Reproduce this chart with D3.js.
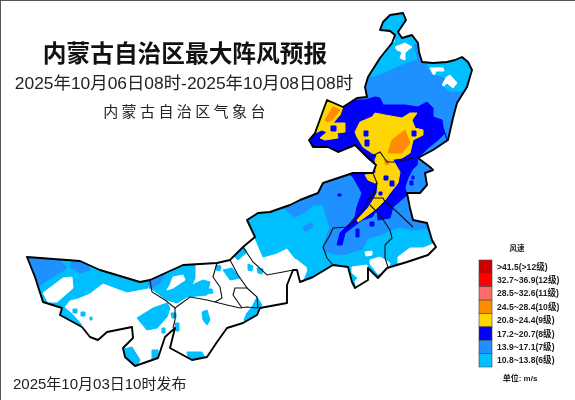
<!DOCTYPE html>
<html>
<head>
<meta charset="utf-8">
<script src="https://d3js.org/d3.v7.min.js"></script>
<style>
  html, body { margin: 0; padding: 0; background: #fff; }
  svg { display: block; filter: blur(0.35px); }
</style>
</head>
<body>
<div id="chart"></div>
<script>
  // title texts
  const titleText = "内蒙古自治区最大阵风预报";
  const periodText = "2025年10月06日08时-2025年10月08日08时";
  const agencyText = "内蒙古自治区气象台";
  const issueText = "2025年10月03日10时发布";
  const legendTitle = "风速";
  const unitText = "单位: m/s";

  // legend classes, top to bottom
  const levelLabels = [">41.5(>12级)", "32.7~36.9(12级)", "28.5~32.6(11级)", "24.5~28.4(10级)",
    "20.8~24.4(9级)", "17.2~20.7(8级)", "13.9~17.1(7级)", "10.8~13.8(6级)"];
  const levelColors = ["#cd0000", "#ff0000", "#ff6a6a", "#ff8c00", "#ffd700", "#0000ff", "#1e90ff", "#00bfff"];

  // map geometry, in map grid units
  const regionOutline = [[403,13],[406,20],[398,32],[402,38],[412,35],[418,43],[419,52],[422,62],[433,63],[447,62],[455,60],[462,57],[468,62],[472,70],[467,87],[457,103],[453,118],[448,140],[433,150],[418,158],[430,167],[433,170],[425,173],[427,185],[420,193],[407,193],[410,208],[413,220],[427,223],[432,240],[436,247],[428,255],[407,262],[387,268],[378,278],[368,268],[368,280],[355,288],[352,282],[348,267],[333,265],[313,277],[300,282],[297,270],[293,270],[287,285],[287,303],[260,308],[257,315],[243,323],[227,328],[217,342],[207,357],[192,360],[170,348],[175,328],[165,337],[158,358],[135,366],[125,357],[123,348],[133,338],[132,327],[107,332],[98,340],[90,337],[82,327],[60,315],[62,308],[43,302],[35,277],[27,257],[80,261],[100,270],[140,282],[150,280],[183,265],[217,263],[230,260],[243,247],[255,237],[247,220],[258,213],[270,212],[290,205],[300,200],[318,193],[323,183],[353,173],[373,173],[376,165],[368,158],[355,145],[338,152],[328,147],[313,147],[309,140],[315,133],[327,100],[343,107],[357,98],[367,97],[365,87],[368,77],[380,58],[392,43],[395,35],[390,31],[380,30],[383,22],[390,15]];

  const leagueLines = [
    [[368,158],[380,152],[387,162],[397,162],[413,158]],
    [[373,173],[377,183],[375,192],[368,200],[367,205],[355,220],[347,227],[333,228],[330,235],[323,247],[327,258],[333,265]],
    [[368,198],[383,198],[385,202],[395,210],[413,227]],
    [[370,205],[380,215],[390,230],[392,238],[385,245],[385,258],[388,267]],
    [[150,280],[152,292],[165,300],[175,308],[190,297],[207,300],[227,305],[240,308],[247,307],[258,308]],
    [[175,308],[175,320],[173,328]],
    [[217,263],[213,277],[220,287],[222,298],[215,302]],
    [[230,260],[238,275],[247,288],[235,288],[233,295],[242,308]],
    [[247,288],[257,297],[258,308]],
    [[243,247],[253,262],[267,275],[283,272],[293,270]]
  ];

  // wind areas by class (clipped to the region outline)
  const cyanAreas = [
    [[240,215],[300,185],[370,0],[480,0],[480,300],[320,300],[300,290],[308,270],[298,262],[287,248],[277,253],[263,257],[255,238]],
    [[20,250],[100,262],[150,275],[148,288],[127,292],[103,283],[90,293],[78,298],[70,300],[64,307],[72,314],[82,325],[60,322],[38,305]],
    [[148,282],[173,268],[195,260],[195,278],[192,285],[203,280],[210,282],[207,295],[187,297],[177,303],[167,300],[153,290]],
    [[137,318],[153,308],[167,303],[170,308],[167,317],[157,328],[147,330]],
    [[223,270],[232,268],[240,278],[230,280]],
    [[233,255],[243,246],[247,252],[238,260]],
    [[257,297],[262,305],[253,318],[247,326],[244,320],[247,313],[252,307]],
    [[202,312],[207,310],[210,320],[207,325],[203,320]],
    [[187,352],[202,352],[205,358],[197,361],[188,357]],
    [[120,350],[132,347],[140,360],[135,370],[122,360]],
    [[152,350],[158,350],[158,360],[152,359]],
    [[205,289],[212,289],[213,293],[206,294]],
    [[216,265],[221,266],[220,271],[216,270]],
    [[248,264],[253,266],[252,271],[248,270]],
    [[257,268],[263,269],[262,274],[258,273]],
    [[171,313],[176,313],[176,318],[172,318]],
    [[175,323],[179,323],[179,331],[176,331]],
    [[162,328],[165,328],[165,333],[162,333]],
    [[73,309],[77,309],[77,313],[73,313]],
    [[81,312],[85,312],[85,316],[81,316]],
    [[90,317],[92,317],[92,320],[90,320]]
  ];
  const calmAreas = [
    [[43,293],[63,278],[72,277],[73,288],[57,302],[48,302]],
    [[170,285],[173,277],[183,275],[185,280],[173,288],[167,290]],
    [[395,47],[405,43],[412,47],[408,50],[405,53],[405,60],[400,58],[402,52],[397,50]],
    [[442,80],[450,75],[457,83],[453,88],[447,83],[443,87]],
    [[430,68],[443,68],[444,71],[436,71],[434,76],[432,72]],
    [[391,38],[394,38],[394,42],[391,42]],
    [[421,68],[424,68],[424,72],[421,72]],
    [[365,252],[372,251],[372,255],[366,256]],
    [[370,260],[380,257],[390,263],[388,271],[378,274],[370,264]],
    [[398,257],[410,248],[423,248],[433,244],[438,248],[430,257],[407,263],[398,263]],
    [[352,267],[367,265],[370,282],[357,290],[355,281],[358,278],[352,273]],
    [[288,257],[297,260],[307,268],[300,272],[288,269]]
  ];
  const blueAreas = [
    [[360,80],[368,77],[375,77],[387,72],[405,64],[418,60],[414,45],[420,44],[426,65],[432,75],[445,78],[441,85],[450,92],[462,92],[480,100],[480,200],[440,200],[440,232],[430,233],[427,228],[413,230],[400,227],[390,230],[380,235],[368,238],[362,249],[342,255],[326,252],[323,245],[330,228],[327,218],[323,205],[313,205],[305,212],[295,217],[290,213],[280,205],[320,185],[350,100]],
    [[25,255],[60,260],[67,268],[53,277],[43,283],[38,288],[33,277]],
    [[73,260],[87,261],[90,270],[80,273],[70,267]],
    [[148,281],[165,274],[160,283],[150,289]],
    [[303,227],[312,223],[313,227],[305,231]]
  ];
  const darkAreas = [
    [[325,95],[350,100],[365,100],[375,97],[380,98],[383,105],[405,105],[418,107],[427,102],[433,108],[433,117],[442,120],[443,127],[447,140],[445,133],[438,140],[428,148],[418,158],[417,165],[412,170],[408,178],[405,187],[407,195],[393,207],[390,218],[378,220],[377,210],[372,217],[362,220],[345,233],[342,245],[337,245],[340,233],[350,223],[355,217],[357,207],[362,193],[353,177],[345,170],[300,150],[300,130]],
    [[356,229],[359,229],[359,237],[356,237]],
    [[370,222],[374,222],[374,226],[370,226]]
  ];
  const darkSpots = [
    [[364,131],[368,131],[368,136],[364,136]],
    [[365,140],[369,140],[369,146],[365,146]],
    [[412,131],[416,131],[416,136],[412,136]],
    [[331,126],[336,126],[336,131],[331,131]],
    [[384,176],[388,176],[388,180],[384,180]],
    [[390,181],[394,181],[394,186],[390,186]],
    [[379,192],[382,192],[382,195],[379,195]],
    [[410,181],[413,181],[413,185],[410,185]],
    [[412,176],[414,176],[414,179],[412,179]],
    [[338,194],[341,194],[341,196],[338,196]]
  ];
  const yellowAreas = [
    [[355,132],[360,122],[372,117],[375,113],[385,115],[402,118],[410,113],[417,113],[412,120],[415,128],[423,130],[423,135],[413,140],[410,153],[402,158],[388,160],[393,160],[400,172],[398,183],[390,193],[385,200],[377,208],[368,215],[358,222],[357,220],[368,208],[372,202],[377,193],[378,182],[375,183],[368,180],[365,175],[376,173],[375,160],[377,155],[372,153],[363,147],[357,137]],
    [[327,100],[343,107],[340,115],[333,123],[345,123],[345,132],[337,133],[338,138],[325,140],[320,138],[327,132],[322,130],[315,133],[310,130]]
  ];
  const orangeAreas = [
    [[388,153],[392,140],[405,130],[410,143],[402,153],[395,153]],
    [[325,120],[333,107],[340,110],[332,120],[327,122]],
    [[385,160],[389,160],[388,165],[385,164]]
  ];

  const W = 575, H = 400;
  const x = d3.scaleLinear().domain([0, 575]).range([0, W]);
  const y = d3.scaleLinear().domain([0, 400]).range([0, H]);

  const svg = d3.select("#chart").append("svg").attr("width", W).attr("height", H);
  svg.append("rect").attr("width", W).attr("height", H).attr("fill", "#fff");

  const plain = d3.line().x((d) => x(d[0])).y((d) => y(d[1]));
  const shut = d3.line().x((d) => x(d[0])).y((d) => y(d[1])).curve(d3.curveLinearClosed);

  svg.append("clipPath").attr("id", "region").append("path").attr("d", shut(regionOutline));

  const fills = svg.append("g").attr("clip-path", "url(#region)");
  const layers = [
    [cyanAreas, levelColors[7]],
    [calmAreas, "#fff"],
    [blueAreas, levelColors[6]],
    [darkAreas, levelColors[5]],
    [yellowAreas, levelColors[4]],
    [darkSpots, levelColors[5]],
    [orangeAreas, levelColors[3]]
  ];
  layers.forEach(([areas, color]) => {
    fills.append("g").selectAll("path").data(areas).join("path")
      .attr("d", shut).attr("fill", color)
      .attr("stroke", color).attr("stroke-width", 1).attr("stroke-linejoin", "round");
  });

  svg.append("g").selectAll("path").data(leagueLines).join("path")
    .attr("d", plain).attr("fill", "none").attr("stroke", "#111").attr("stroke-width", 1.1);
  svg.append("path").attr("d", shut(regionOutline))
    .attr("fill", "none").attr("stroke", "#000").attr("stroke-width", 1.9).attr("stroke-linejoin", "round");

  // headings
  const zh = "'Noto Sans CJK SC', sans-serif";
  const mixed = "'Liberation Sans', 'Noto Sans CJK SC', sans-serif";
  svg.append("text").attr("x", 185).attr("y", 62).attr("text-anchor", "middle")
    .attr("font-family", zh).attr("font-weight", 700).attr("font-size", 23.7).attr("fill", "#111").text(titleText);
  svg.append("text").attr("x", 184).attr("y", 89).attr("text-anchor", "middle")
    .attr("font-family", mixed).attr("font-size", 17.4).attr("fill", "#222").text(periodText);
  svg.append("text").attr("x", 186).attr("y", 117).attr("text-anchor", "middle")
    .attr("font-family", zh).attr("font-size", 15).attr("letter-spacing", 3.4).attr("fill", "#222").text(agencyText);
  svg.append("text").attr("x", 13).attr("y", 389)
    .attr("font-family", mixed).attr("font-size", 15).attr("fill", "#222").text(issueText);

  // legend
  const legendY = d3.scaleBand().domain(levelLabels).range([260, 367]);
  const legend = svg.append("g");
  legend.selectAll("rect").data(levelLabels).join("rect")
    .attr("x", 479).attr("y", (d) => legendY(d)).attr("width", 13).attr("height", legendY.bandwidth())
    .attr("fill", (d, i) => levelColors[i]).attr("stroke", "#444").attr("stroke-width", 0.6);
  legend.selectAll("text.lab").data(levelLabels).join("text").attr("class", "lab")
    .attr("x", 497).attr("y", (d) => legendY(d) + legendY.bandwidth() / 2 + 3)
    .attr("font-family", mixed).attr("font-weight", 700).attr("font-size", 8.6).attr("fill", "#222").text((d) => d);
  legend.append("text").attr("x", 517).attr("y", 251).attr("text-anchor", "middle")
    .attr("font-family", zh).attr("font-weight", 700).attr("font-size", 7.5).attr("fill", "#222").text(legendTitle);
  legend.append("text").attr("x", 520).attr("y", 381).attr("text-anchor", "middle")
    .attr("font-family", mixed).attr("font-weight", 700).attr("font-size", 8).attr("fill", "#222").text(unitText);

  // picture frame on the top and left edges
  svg.append("path").attr("d", plain([[0, 400], [0, 0], [575, 0]]))
    .attr("fill", "none").attr("stroke", "#555").attr("stroke-width", 2);
</script>
</body>
</html>
